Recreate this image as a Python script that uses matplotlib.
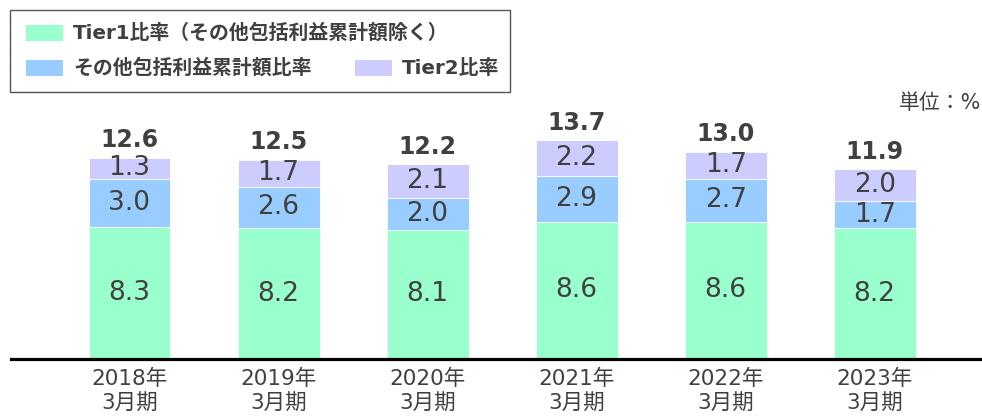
import matplotlib
matplotlib.use("Agg")
import matplotlib.pyplot as plt
from matplotlib.patches import Rectangle

# -- data --
periods = ["2018年\n3月期", "2019年\n3月期", "2020年\n3月期",
           "2021年\n3月期", "2022年\n3月期", "2023年\n3月期"]
tier1_ex_oci = [8.3, 8.2, 8.1, 8.6, 8.6, 8.2]
oci_ratio = [3.0, 2.6, 2.0, 2.9, 2.7, 1.7]
tier2_ratio = [1.3, 1.7, 2.1, 2.2, 1.7, 2.0]
totals = [12.6, 12.5, 12.2, 13.7, 13.0, 11.9]

series_names = ["Tier1比率（その他包括利益累計額除く）", "その他包括利益累計額比率", "Tier2比率"]
colors = ["#99FFCC", "#99CCFF", "#CCCCFF"]
TEXT = "#404040"
FONTS = ["DejaVu Sans", "Noto Sans CJK JP"]

plt.rcParams["font.family"] = FONTS

fig = plt.figure(figsize=(9.82, 4.17), dpi=100)
W, H = 982, 417
# axes: left 11px, right 982px, baseline at y=359px from top
AX_H = 0.75
ax = fig.add_axes([11 / W, (H - 359) / H, (982 - 11) / W, AX_H])
x = list(range(len(periods)))

bottoms = [0.0] * len(periods)
for vals, col in zip([tier1_ex_oci, oci_ratio, tier2_ratio], colors):
    bars = ax.bar(x, vals, bottom=bottoms, width=0.55, color=col,
                  edgecolor="white", linewidth=0.6)
    for b, v, bot in zip(bars, vals, bottoms):
        ax.text(b.get_x() + b.get_width() / 2, bot + v / 2, f"{v:.1f}",
                ha="center", va="center", fontsize=19, color=TEXT)
    bottoms = [b + v for b, v in zip(bottoms, vals)]

for xi, top, tot in zip(x, bottoms, totals):
    ax.annotate(f"{tot:.1f}", (xi, top), xytext=(0, 4),
                textcoords="offset points", ha="center", va="bottom",
                fontsize=17, fontweight="bold", color=TEXT)

# ~15.95 px per percentage point, as in the reference
ax.set_ylim(0, AX_H * H / 15.95)
ax.set_xlim(-0.795, 5.72)

for s in ["top", "right", "left"]:
    ax.spines[s].set_visible(False)
ax.spines["bottom"].set_linewidth(2.3)
ax.spines["bottom"].set_color("black")
ax.set_yticks([])
ax.set_xticks(x)
ax.set_xticklabels(periods, fontsize=15.5, color=TEXT, linespacing=1.3)
ax.tick_params(axis="x", length=0, pad=7)

# unit label
fig.text(981 / W, 1 - 103 / H, "単位：%", ha="right", va="center",
         fontsize=15, color=TEXT)

# manual legend box
fig.patches.append(Rectangle((10 / W, 1 - 92 / H), 500 / W, 82 / H,
                             transform=fig.transFigure, fill=False,
                             edgecolor="#555555", linewidth=1.0, zorder=5))
legend_items = [(26, 33, 0), (26, 68, 1), (355, 68, 2)]
for lx, ly, i in legend_items:
    fig.patches.append(Rectangle((lx / W, 1 - (ly + 8) / H), 37 / W, 16 / H,
                                 transform=fig.transFigure,
                                 facecolor=colors[i], edgecolor="none"))
    fig.text((lx + 47) / W, 1 - ly / H, series_names[i], ha="left",
             va="center", fontsize=14.3, fontweight="bold", color=TEXT)

fig.savefig("out.png", dpi=100)
